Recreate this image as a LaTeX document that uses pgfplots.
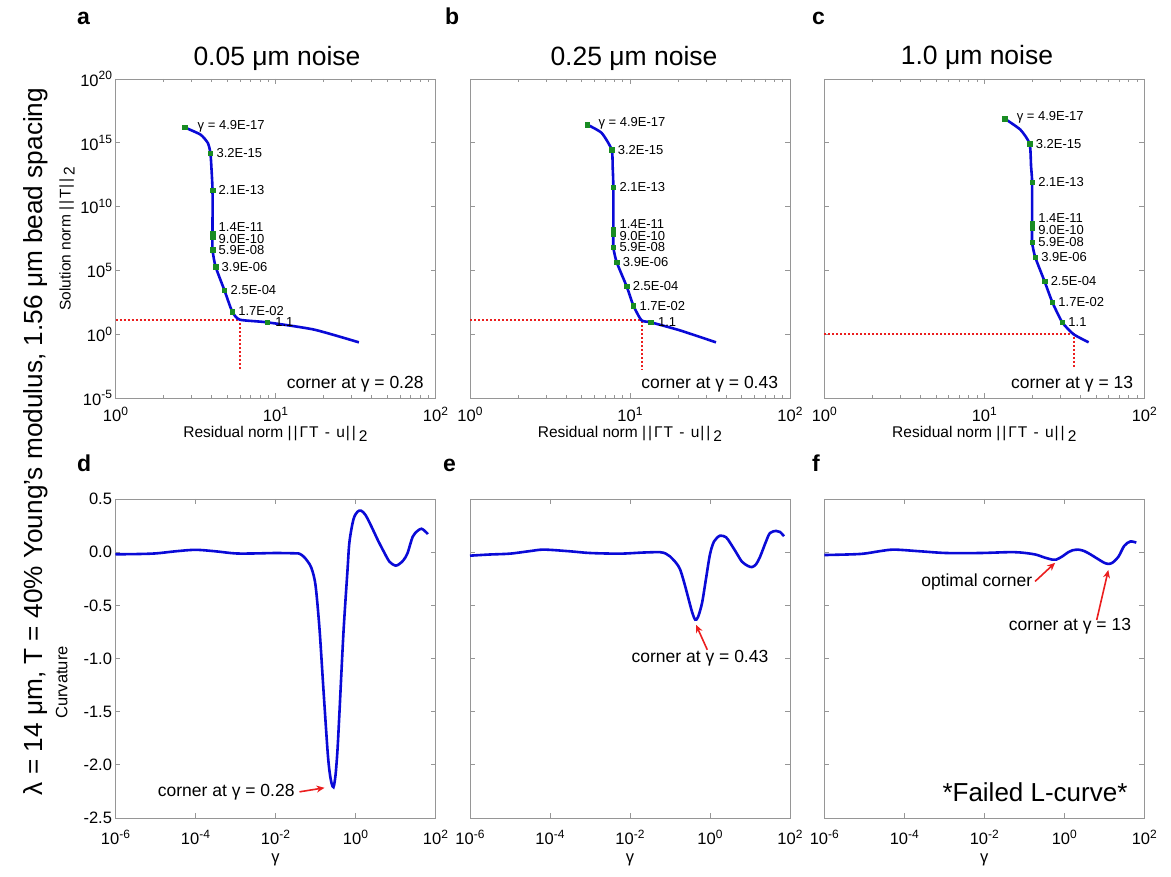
\documentclass[border=0pt]{standalone}
\usepackage{fontspec}
\setmainfont{Liberation Sans}
\usepackage{pgfplots}
\pgfplotsset{compat=1.18}
\usetikzlibrary{arrows.meta}
\definecolor{axgray}{RGB}{150,150,150}
\definecolor{curveblue}{RGB}{10,10,215}
\definecolor{mkgreen}{RGB}{25,140,35}
\definecolor{myred}{RGB}{235,30,30}
\newcommand\fs[1]{\fontsize{#1}{#1}\selectfont}
\newcommand\sups[1]{\raisebox{6.5pt}{\fs{12}#1}}
\newcommand\subs[1]{\raisebox{-4pt}{#1}}
\newcommand\bars{|\kern2pt|}
\newcommand\lab[5][0]{\node[anchor=west, inner sep=0pt, xshift=#5pt, yshift=#1pt, font=\fs{13}] at (axis cs:#2,#3) {#4};}
\newcommand\resid{Residual norm \bars\kern2pt Γ\kern0.8pt T\kern2pt{} - \kern2pt u\kern1pt\bars\kern3pt\subs{2}}

\pgfplotsset{
  every axis/.append style={
    scale only axis, width=320pt, height=319pt,
    axis line style={draw=axgray, line width=0.9pt},
    tick style={draw=axgray, line width=0.8pt},
    tick align=inside,
    major tick length=5pt, minor tick length=3pt,
    tick label style={font=\fs{16.5}, text=black},
    label style={font=\fs{15.5}},
    clip=false,
  },
}
\tikzset{
 bluec/.style={draw=curveblue, line width=2.6pt, smooth, tension=0.35},
 greenm/.style={draw=mkgreen, fill=mkgreen},
 reddot/.style={color=myred, line width=2pt, line cap=butt, dash pattern=on 2pt off 2pt},
 redarrow/.style={draw=myred, line width=1.6pt, -{Stealth[length=8pt,width=7pt]}},
}

\begin{document}
\begin{tikzpicture}
% ---------------- panel a ----------------
\begin{axis}[at={(115.5pt,479pt)}, anchor=south west,
  xmode=log, ymode=log, xmin=1, xmax=100, ymin=1e-5, ymax=1e20,
  xtick={1,10,100}, xticklabels={10\sups{0},10\sups{1},10\sups{2}},
  ytick={1e-5,1,1e5,1e10,1e15,1e20}, yminorticks=false,
  yticklabels={10\sups{-5},10\sups{0},10\sups{5},10\sups{10},10\sups{15},10\sups{20}},
  xticklabel style={anchor=base, yshift=-24pt},
  xlabel={\resid},
  xlabel style={at={(axis description cs:0.5,-0.125)}, anchor=base},
  ylabel={Solution norm \bars\kern2pt T\kern1pt\bars\kern3pt\subs{2}},
  ylabel style={at={(axis description cs:-0.14,0.5)}, anchor=base}]
\addplot[reddot] coordinates {(1,13.8) (5.98,13.8) (5.98,1.9e-3)};
\addplot[bluec] coordinates {(2.70,1.62e16) (3.40,4.37e15) (3.78,9.5e14) (3.92,1.58e14) (3.98,1e13) (4.04,1.86e11) (4.04,8.5e7) (4.04,4.2e6) (4.22,2.0e5) (4.80,2.7e3) (5.36,60) (5.98,13.8) (8.87,8.5) (17.4,2.3) (33.2,0.23)};
\addplot[only marks, mark=square*, mark size=2.2pt, mark options={greenm}] coordinates {(2.70,1.62e16) (3.92,1.58e14) (4.04,1.86e11) (4.04,8.5e7) (4.04,4.2e7) (4.04,4.2e6) (4.22,2.0e5) (4.80,2.7e3) (5.36,60) (8.87,8.5)};
\lab[1]{2.70}{1.62e16}{γ = 4.9E-17}{13}
\lab{3.92}{1.58e14}{3.2E-15}{6}
\lab{4.04}{1.86e11}{2.1E-13}{6}
\lab[6]{4.04}{8.5e7}{1.4E-11}{6}
\lab[-2]{4.04}{4.2e7}{9.0E-10}{6}
\lab{4.04}{4.2e6}{5.9E-08}{6}
\lab{4.22}{2.0e5}{3.9E-06}{6}
\lab{4.80}{2.7e3}{2.5E-04}{6}
\lab{5.36}{60}{1.7E-02}{6}
\lab{8.87}{8.5}{1.1}{8}
\node[anchor=base east, inner sep=0pt, font=\fs{17.5}] at (rel axis cs:0.9634,0.031) {corner at γ = 0.28};
\end{axis}
% ---------------- panel b ----------------
\begin{axis}[at={(470pt,479pt)}, anchor=south west,
  xmode=log, ymode=log, xmin=1, xmax=100, ymin=1e-5, ymax=1e20,
  xtick={1,10,100}, xticklabels={10\sups{0},10\sups{1},10\sups{2}},
  ytick={1e-5,1,1e5,1e10,1e15,1e20}, yminorticks=false, yticklabels={},
  xticklabel style={anchor=base, yshift=-24pt},
  xlabel={\resid},
  xlabel style={at={(axis description cs:0.5,-0.125)}, anchor=base}]
\addplot[reddot] coordinates {(1,12.3) (11.8,12.3) (11.8,1.9e-3)};
\addplot[bluec] coordinates {(5.41,2.63e16) (6.65,5.9e15) (7.68,2.9e14) (7.80,1e13) (7.87,3.47e11) (7.87,1.55e8) (7.87,6.5e6) (8.26,4.3e5) (9.53,5.6e3) (10.5,174) (11.8,12.3) (13.5,8.5) (20.5,2.0) (34.5,0.23)};
\addplot[only marks, mark=square*, mark size=2.2pt, mark options={greenm}] coordinates {(5.41,2.63e16) (7.68,2.9e14) (7.87,3.47e11) (7.87,1.55e8) (7.87,7.6e7) (7.87,6.5e6) (8.26,4.3e5) (9.53,5.6e3) (10.5,174) (13.5,8.5)};
\lab[1]{5.41}{2.63e16}{γ = 4.9E-17}{11}
\lab{7.68}{2.9e14}{3.2E-15}{6}
\lab{7.87}{3.47e11}{2.1E-13}{6}
\lab[6]{7.87}{1.55e8}{1.4E-11}{6}
\lab[-2]{7.87}{7.6e7}{9.0E-10}{6}
\lab{7.87}{6.5e6}{5.9E-08}{6}
\lab{8.26}{4.3e5}{3.9E-06}{6}
\lab{9.53}{5.6e3}{2.5E-04}{6}
\lab{10.5}{174}{1.7E-02}{6}
\lab{13.5}{8.5}{1.1}{7}
\node[anchor=base east, inner sep=0pt, font=\fs{17.5}] at (rel axis cs:0.9634,0.031) {corner at γ = 0.43};
\end{axis}
% ---------------- panel c ----------------
\begin{axis}[at={(824.3pt,479pt)}, anchor=south west,
  xmode=log, ymode=log, xmin=1, xmax=100, ymin=1e-5, ymax=1e20,
  xtick={1,10,100}, xticklabels={10\sups{0},10\sups{1},10\sups{2}},
  ytick={1e-5,1,1e5,1e10,1e15,1e20}, yminorticks=false, yticklabels={},
  xticklabel style={anchor=base, yshift=-24pt},
  xlabel={\resid},
  xlabel style={at={(axis description cs:0.5,-0.125)}, anchor=base}]
\addplot[reddot] coordinates {(1,1) (36.1,1) (36.1,1.9e-3)};
\addplot[bluec] coordinates {(13.4,7.8e16) (16.8,1.07e16) (19.2,8.5e14) (19.6,1.5e13) (19.9,8.5e11) (19.9,4.6e8) (19.9,1.6e7) (20.8,1.1e6) (23.8,1.4e4) (26.6,330) (30.7,8.5) (36.1,1.0) (44.9,0.23)};
\addplot[only marks, mark=square*, mark size=2.2pt, mark options={greenm}] coordinates {(13.4,7.8e16) (19.2,8.5e14) (19.9,8.5e11) (19.9,4.6e8) (19.9,2.1e8) (19.9,1.6e7) (20.8,1.1e6) (23.8,1.4e4) (26.6,330) (30.7,8.5)};
\lab[1]{13.4}{7.8e16}{γ = 4.9E-17}{12}
\lab{19.2}{8.5e14}{3.2E-15}{6}
\lab{19.9}{8.5e11}{2.1E-13}{6}
\lab[6]{19.9}{4.6e8}{1.4E-11}{6}
\lab[-2]{19.9}{2.1e8}{9.0E-10}{6}
\lab{19.9}{1.6e7}{5.9E-08}{6}
\lab{20.8}{1.1e6}{3.9E-06}{6}
\lab{23.8}{1.4e4}{2.5E-04}{6}
\lab{26.6}{330}{1.7E-02}{6}
\lab{30.7}{8.5}{1.1}{6}
\node[anchor=base east, inner sep=0pt, font=\fs{17.5}] at (rel axis cs:0.9656,0.031) {corner at γ = 13};
\end{axis}
% ---------------- panel d ----------------
\begin{axis}[at={(115.5pt,59pt)}, anchor=south west,
  xmode=log, xmin=1e-6, xmax=100, ymin=-2.5, ymax=0.5,
  xtick={1e-6,1e-4,1e-2,1,100}, xminorticks=false,
  xticklabels={10\sups{-6},10\sups{-4},10\sups{-2},10\sups{0},10\sups{2}},
  ytick={-2.5,-2,-1.5,-1,-0.5,0,0.5},
  yticklabels={-2.5,-2.0,-1.5,-1.0,-0.5,0.0,0.5},
  xticklabel style={anchor=base, yshift=-27pt},
  xlabel={γ},
  xlabel style={at={(axis description cs:0.5,-0.138)}, anchor=base, font=\fs{16.5}},
  ylabel={Curvature},
  ylabel style={at={(axis description cs:-0.15,0.425)}, anchor=base, font=\fs{16.5}}]
\addplot[bluec, tension=0.5] coordinates {(1e-6,-0.02) (3.16e-6,-0.018) (1e-5,-0.012) (3.16e-5,0.008) (1e-4,0.022) (3.16e-4,0.008) (1e-3,-0.012) (3.16e-3,-0.012) (1e-2,-0.008) (3.16e-2,-0.011) (0.0398,-0.015) (0.0501,-0.04) (0.0631,-0.085) (0.0794,-0.15) (0.1,-0.31) (0.1259,-0.72) (0.1585,-1.30) (0.1995,-1.86) (0.2239,-2.06) (0.2512,-2.17) (0.2818,-2.21) (0.3162,-2.10) (0.3548,-1.86) (0.3981,-1.50) (0.5012,-0.75) (0.6310,-0.17) (0.7079,0.10) (0.8913,0.31) (1.122,0.38) (1.38,0.39) (1.778,0.35) (2.512,0.24) (3.548,0.12) (5.012,0.01) (7.079,-0.09) (10,-0.127) (12.59,-0.11) (15.85,-0.075) (19.95,-0.01) (26.9,0.145) (35.48,0.20) (44.67,0.22) (53.7,0.20) (64.6,0.17)};
\node[anchor=base, inner sep=0pt, font=\fs{17.5}] at (axis cs:5.86e-4,-2.30) {corner at γ = 0.28};
\draw[redarrow] (axis cs:0.0398,-2.254) -- (axis cs:0.168,-2.216);
\end{axis}
% ---------------- panel e ----------------
\begin{axis}[at={(470pt,59pt)}, anchor=south west,
  xmode=log, xmin=1e-6, xmax=100, ymin=-2.5, ymax=0.5,
  xtick={1e-6,1e-4,1e-2,1,100}, xminorticks=false,
  xticklabels={10\sups{-6},10\sups{-4},10\sups{-2},10\sups{0},10\sups{2}},
  ytick={-2.5,-2,-1.5,-1,-0.5,0,0.5}, yticklabels={},
  xticklabel style={anchor=base, yshift=-27pt},
  xlabel={γ},
  xlabel style={at={(axis description cs:0.5,-0.138)}, anchor=base, font=\fs{16.5}}]
\addplot[bluec, tension=0.5] coordinates {(1e-6,-0.033) (3.16e-6,-0.022) (1e-5,-0.014) (3.16e-5,0.01) (7.08e-5,0.024) (3.16e-4,0.008) (1e-3,-0.008) (5.62e-3,-0.014) (0.01995,-0.004) (0.05623,0.0) (0.07943,-0.015) (0.1,-0.04) (0.1413,-0.10) (0.1778,-0.16) (0.2239,-0.28) (0.2818,-0.42) (0.3548,-0.56) (0.4266,-0.635) (0.5012,-0.61) (0.6310,-0.48) (0.7943,-0.25) (1,-0.02) (1.259,0.10) (1.778,0.155) (2.512,0.14) (3.162,0.09) (4.467,0.0) (6.310,-0.09) (8.913,-0.13) (11.22,-0.14) (14.13,-0.115) (17.78,-0.045) (25.12,0.10) (31.62,0.18) (44.67,0.20) (56.23,0.19) (70.79,0.15)};
\node[anchor=base, inner sep=0pt, font=\fs{17.5}] at (axis cs:0.562,-1.04) {corner at γ = 0.43};
\draw[redarrow] (axis cs:0.856,-0.918) -- (axis cs:0.447,-0.683);
\end{axis}
% ---------------- panel f ----------------
\begin{axis}[at={(824.3pt,59pt)}, anchor=south west,
  xmode=log, xmin=1e-6, xmax=100, ymin=-2.5, ymax=0.5,
  xtick={1e-6,1e-4,1e-2,1,100}, xminorticks=false,
  xticklabels={10\sups{-6},10\sups{-4},10\sups{-2},10\sups{0},10\sups{2}},
  ytick={-2.5,-2,-1.5,-1,-0.5,0,0.5}, yticklabels={},
  xticklabel style={anchor=base, yshift=-27pt},
  xlabel={γ},
  xlabel style={at={(axis description cs:0.5,-0.138)}, anchor=base, font=\fs{16.5}}]
\addplot[bluec, tension=0.5] coordinates {(1e-6,-0.027) (7.94e-6,-0.017) (2.51e-5,0.01) (5.62e-5,0.024) (2.51e-4,0.008) (1.122e-3,-0.008) (7.94e-3,-0.008) (0.05623,0.0) (0.1778,-0.02) (0.3162,-0.05) (0.5012,-0.07) (0.6310,-0.07) (0.8913,-0.04) (1.259,0.0) (1.585,0.017) (2.239,0.024) (3.162,0.01) (4.467,-0.02) (6.310,-0.055) (10,-0.10) (12.59,-0.11) (15.85,-0.10) (22.39,-0.045) (31.62,0.06) (44.67,0.10) (63.1,0.09)};
\node[anchor=base, inner sep=0pt, font=\fs{17.5}] at (axis cs:6.46e-3,-0.326) {optimal corner};
\node[anchor=base, inner sep=0pt, font=\fs{17.5}] at (axis cs:1.388,-0.739) {corner at γ = 13};
\node[anchor=base, inner sep=0pt, font=\fs{26}] at (axis cs:0.185,-2.342) {*Failed L-curve*};
\draw[redarrow] (axis cs:0.186,-0.275) -- (axis cs:0.589,-0.10);
\draw[redarrow] (axis cs:6.46,-0.638) -- (axis cs:12.6,-0.168);
\end{axis}
% ---------------- titles, letters, side label ----------------
\node[anchor=base, inner sep=0pt, font=\fs{26.5}] at (277pt,811pt) {0.05 μm noise};
\node[anchor=base, inner sep=0pt, font=\fs{26.5}] at (634pt,811pt) {0.25 μm noise};
\node[anchor=base, inner sep=0pt, font=\fs{26.5}] at (977pt,812pt) {1.0 μm noise};
\node[anchor=base west, inner sep=0pt, font=\bfseries\fs{23}] at (77pt,852pt) {a};
\node[anchor=base west, inner sep=0pt, font=\bfseries\fs{23}] at (445pt,852pt) {b};
\node[anchor=base west, inner sep=0pt, font=\bfseries\fs{23}] at (812pt,852pt) {c};
\node[anchor=base west, inner sep=0pt, font=\bfseries\fs{23}] at (77pt,405pt) {d};
\node[anchor=base west, inner sep=0pt, font=\bfseries\fs{23}] at (443pt,405pt) {e};
\node[anchor=base west, inner sep=0pt, font=\bfseries\fs{23}] at (812pt,405pt) {f};
\node[anchor=base, inner sep=0pt, rotate=90, font=\fs{26.2}] at (42.7pt,435.5pt) {λ = 14 μm, T = 40\% Young's modulus, 1.56 μm bead spacing};
\pgfresetboundingbox
\useasboundingbox (0pt,0pt) rectangle (1171pt,877pt);
\end{tikzpicture}
\end{document}
